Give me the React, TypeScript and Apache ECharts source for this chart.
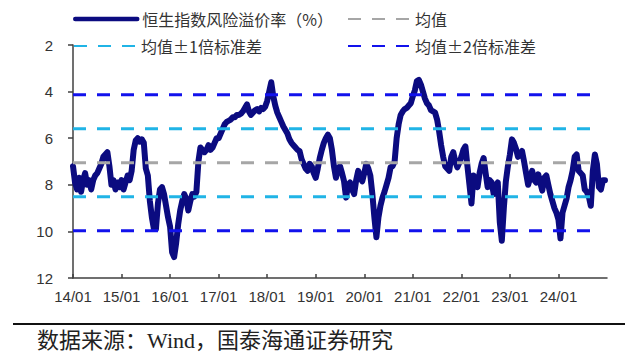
import React, { useEffect, useRef } from 'react';
import * as echarts from 'echarts';

const SERIES_NAME = '恒生指数风险溢价率（%）';
const MEAN_NAME = '均值';
const SD1_NAME = '均值±1倍标准差';
const SD2_NAME = '均值±2倍标准差';
const SOURCE_TEXT = '数据来源：Wind，国泰海通证券研究';

const xTickYears = [2014, 2015, 2016, 2017, 2018, 2019, 2020, 2021, 2022, 2023, 2024];
const xTickLabels = ['14/01', '15/01', '16/01', '17/01', '18/01', '19/01', '20/01', '21/01', '22/01', '23/01', '24/01'];

// semi-monthly readings (24 per year) of the risk premium, %
const premium2014 = [7.2, 7.9, 8.2, 7.7, 8.3, 7.8, 7.5, 8.0, 7.8, 8.2, 7.8, 7.6, 7.5, 7.3, 7.1, 6.8, 6.7, 6.6, 7.2, 8.0, 7.8, 8.2, 7.9, 8.1];
const premium2015 = [7.8, 8.2, 7.9, 7.6, 7.8, 7.4, 6.5, 6.1, 6.0, 6.15, 6.05, 6.2, 7.3, 7.6, 8.7, 9.4, 9.9, 9.9, 8.8, 8.2, 8.1, 8.4, 8.9, 9.4];
const premium2016 = [9.8, 10.9, 11.1, 10.5, 9.7, 9.1, 8.7, 8.4, 8.6, 9.1, 8.7, 8.4, 8.5, 8.3, 7.0, 6.4, 6.5, 6.6, 6.5, 6.3, 6.5, 6.4, 6.2, 6.0];
const premium2017 = [6.0, 5.8, 5.6, 5.4, 5.3, 5.25, 5.2, 5.1, 5.1, 5.0, 5.0, 4.95, 4.85, 4.7, 4.55, 4.85, 5.0, 4.9, 4.8, 4.75, 4.85, 4.7, 4.75, 4.65];
const premium2018 = [4.4, 4.0, 3.6, 4.2, 4.6, 4.9, 5.1, 5.3, 5.5, 5.65, 5.8, 6.05, 6.2, 6.3, 6.4, 6.5, 6.55, 6.9, 7.1, 7.3, 7.4, 7.1, 7.2, 7.5];
const premium2019 = [7.7, 7.3, 6.85, 6.5, 6.2, 6.0, 5.85, 6.0, 6.5, 7.2, 7.7, 7.3, 7.2, 7.5, 7.85, 8.55, 8.0, 7.9, 8.2, 8.4, 7.8, 7.4, 7.7, 7.85];
const premium2020 = [7.5, 7.1, 7.3, 7.6, 8.4, 9.4, 10.25, 9.4, 8.9, 8.55, 8.3, 8.0, 7.7, 7.25, 7.2, 7.0, 6.0, 5.4, 5.0, 4.85, 4.75, 4.7, 4.6, 4.5];
const premium2021 = [4.2, 3.95, 3.55, 3.5, 3.7, 4.0, 4.3, 4.5, 4.6, 4.8, 4.85, 4.9, 5.2, 5.7, 6.3, 6.8, 7.2, 7.3, 7.4, 6.8, 6.6, 7.0, 7.25, 7.05];
const premium2022 = [6.8, 6.5, 6.35, 7.2, 8.0, 8.8, 7.6, 7.8, 8.1, 7.5, 7.1, 6.85, 7.5, 8.1, 7.8, 7.9, 8.4, 8.1, 7.9, 9.6, 10.4, 9.0, 7.85, 7.2];
const premium2023 = [6.7, 6.05, 6.2, 6.45, 6.8, 6.7, 6.55, 7.0, 7.5, 8.0, 7.7, 7.4, 7.8, 7.9, 7.55, 7.9, 8.25, 7.7, 7.6, 8.0, 8.4, 8.7, 9.0, 9.2];
const premium2024 = [9.5, 10.3, 9.2, 8.9, 8.6, 8.1, 7.8, 7.4, 6.8, 6.7, 7.4, 7.5, 7.6, 8.2, 8.3, 8.5, 8.9, 7.4, 6.7, 7.1, 8.1, 8.2, 7.8, 7.8];

const premiumByYear = [
  premium2014, premium2015, premium2016, premium2017, premium2018, premium2019,
  premium2020, premium2021, premium2022, premium2023, premium2024,
];

const meanValue = 7.05;
const sd1Values = [5.59, 8.51];
const sd2Values = [4.13, 9.97];
const refStart = 2014;
const refEnd = 2024.82;

export default function App() {
  const ref = useRef<HTMLDivElement>(null);

  useEffect(() => {
    if (!ref.current) return;
    const chart = echarts.init(ref.current, undefined, { renderer: 'svg' });

    const premiumData: number[][] = [];
    premiumByYear.forEach((arr, yi) => {
      arr.forEach((v, i) => {
        premiumData.push([xTickYears[0] + yi + i / 24, v]);
      });
    });

    const refLine = (name: string, v: number, color: string) => ({
      name,
      type: 'line',
      data: [[refStart, v], [refEnd, v]],
      showSymbol: false,
      symbol: 'none',
      silent: true,
      lineStyle: { color, width: 3, type: [13, 11] },
      itemStyle: { color },
      z: 3,
    });

    const legendBase = {
      orient: 'horizontal',
      padding: 0,
      itemWidth: 62,
      itemHeight: 16,
      itemGap: 5,
      selectedMode: false,
      itemStyle: { opacity: 0 },
      textStyle: {
        fontFamily: "'Noto Sans CJK SC', sans-serif",
        fontSize: 16,
        color: '#333333',
        lineHeight: 16,
      },
    };

    const labelFont = "'Liberation Sans', Arial, sans-serif";

    chart.setOption({
      animation: false,
      backgroundColor: '#ffffff',
      grid: { left: 73, right: 31, top: 45, height: 233, containLabel: false },
      legend: [
        { ...legendBase, data: [SERIES_NAME], left: 73, top: 11, lineStyle: { width: 4.5 } },
        { ...legendBase, data: [MEAN_NAME], left: 347, top: 11 },
        { ...legendBase, data: [SD1_NAME], left: 73, top: 38 },
        { ...legendBase, data: [SD2_NAME], left: 347, top: 38 },
      ],
      xAxis: {
        type: 'value',
        min: 2014,
        max: 2025,
        interval: 1,
        axisLine: { onZero: false, lineStyle: { color: '#404040', width: 1.5 } },
        axisTick: { inside: true, length: 4, customValues: xTickYears, lineStyle: { color: '#404040', width: 1.5 } },
        axisLabel: {
          customValues: xTickYears,
          margin: 11,
          fontSize: 15,
          fontFamily: labelFont,
          color: '#333333',
          formatter: (v: number) => {
            const idx = xTickYears.indexOf(Math.round(v));
            return idx >= 0 ? xTickLabels[idx] : '';
          },
        },
        splitLine: { show: false },
      },
      yAxis: {
        type: 'value',
        inverse: true,
        min: 2,
        max: 12,
        interval: 2,
        axisLine: { show: true, lineStyle: { color: '#404040', width: 1.5 } },
        axisTick: { show: true, inside: false, length: 5, lineStyle: { color: '#404040', width: 1.5 } },
        axisLabel: { margin: 20, fontSize: 15, fontFamily: labelFont, color: '#333333' },
        splitLine: { show: false },
      },
      series: [
        {
          name: SERIES_NAME,
          type: 'line',
          data: premiumData,
          showSymbol: false,
          symbol: 'none',
          lineStyle: { color: '#0B0B80', width: 6, join: 'round', cap: 'round' },
          itemStyle: { color: '#0B0B80' },
          z: 2,
        },
        refLine(MEAN_NAME, meanValue, '#A6A6A6'),
        refLine(SD1_NAME, sd1Values[0], '#20B4E6'),
        refLine(SD1_NAME, sd1Values[1], '#20B4E6'),
        refLine(SD2_NAME, sd2Values[0], '#1212EC'),
        refLine(SD2_NAME, sd2Values[1], '#1212EC'),
      ],
      graphic: [
        {
          type: 'line',
          shape: { x1: 13, y1: 324, x2: 625, y2: 324 },
          style: { stroke: '#111111', lineWidth: 2 },
          silent: true,
        },
        {
          type: 'text',
          x: 37,
          y: 340,
          silent: true,
          style: {
            text: SOURCE_TEXT,
            fontSize: 22,
            fontFamily: "'Liberation Serif', 'Noto Sans CJK SC', serif",
            fill: '#222222',
            verticalAlign: 'middle',
            align: 'left',
          },
        },
      ],
    });

    return () => chart.dispose();
  }, []);

  return (
    <div
      ref={ref}
      style={{ position: 'fixed', left: 0, top: 0, width: 638, height: 357, background: '#fff' }}
    />
  );
}
